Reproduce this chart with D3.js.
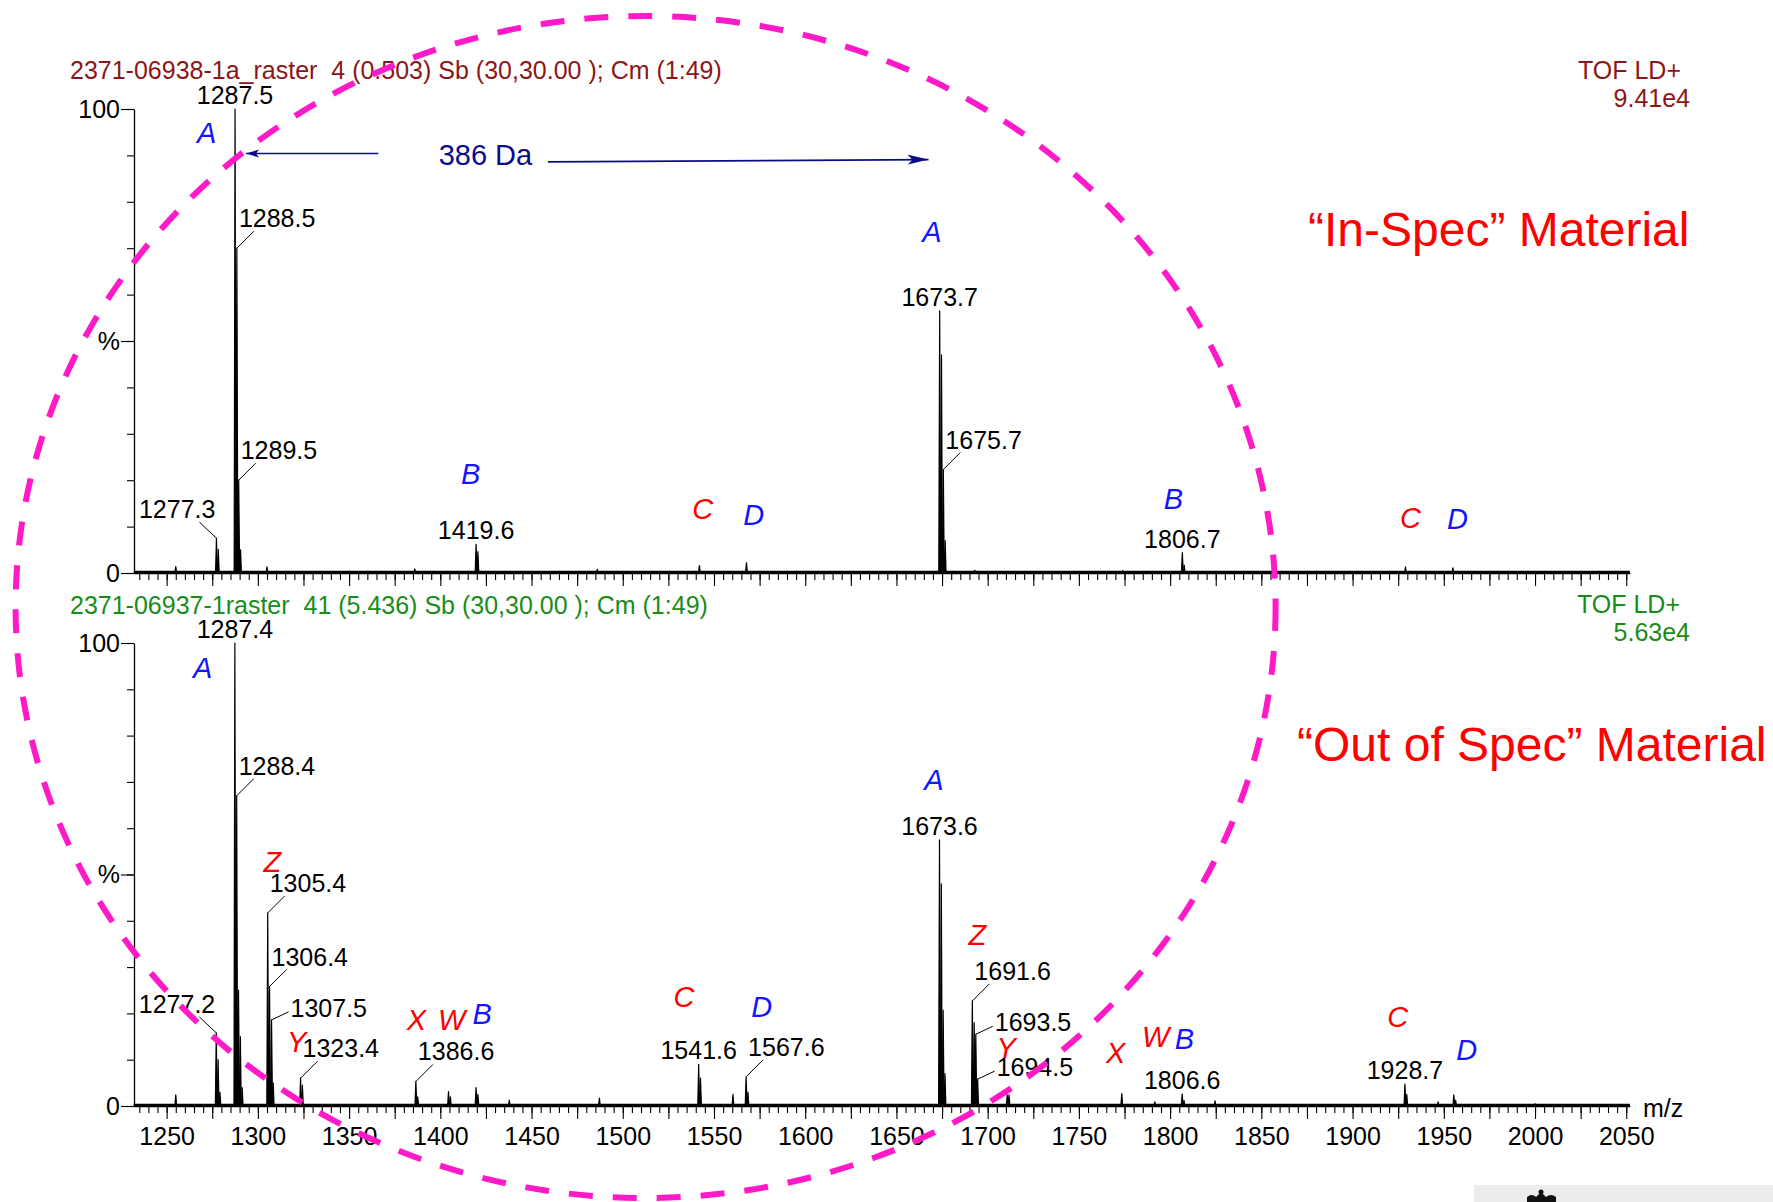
<!DOCTYPE html>
<html><head><meta charset="utf-8">
<script src="https://cdn.jsdelivr.net/npm/d3@7"></script>
<style>
html,body{margin:0;padding:0;background:#fff;}
svg{display:block;font-family:"Liberation Sans",Arial,Helvetica,sans-serif;}
</style></head><body>
<svg id="chart" width="1773" height="1202"></svg>
<script>
// ---------------- spectrum data (peak centroid m/z, relative intensity %) ----------------
const topMz  = [1255.0, 1277.3, 1278.3, 1287.5, 1288.5, 1289.5, 1290.5, 1305.0, 1386.0, 1419.6, 1420.6,
                1486.0, 1542.0, 1567.8, 1673.7, 1674.7, 1675.7, 1676.7, 1693.0, 1774.0, 1806.7, 1807.7,
                1929.0, 1955.0];
const topInt = [1.4, 7.5, 5.1, 100, 70, 20, 5, 1.3, 0.9, 6.2, 4.6,
                0.8, 1.6, 2.2, 56.5, 47, 22.3, 7, 0.6, 0.5, 4.4, 1.7,
                1.3, 1.1];

const botMz  = [1255.0, 1277.2, 1278.2, 1279.2, 1287.4, 1288.4, 1289.4, 1290.4, 1291.4, 1305.4, 1306.4,
                1307.5, 1308.4, 1323.4, 1324.4, 1386.6, 1387.6, 1404.5, 1405.5, 1419.6, 1420.6, 1437.8,
                1487.2, 1541.6, 1542.6, 1560.4, 1567.6, 1568.6, 1673.6, 1674.6, 1675.6, 1676.6, 1691.6,
                1692.6, 1693.5, 1694.5, 1710.7, 1711.7, 1773.5, 1791.6, 1806.6, 1807.6, 1824.6, 1928.7,
                1929.7, 1946.9, 1955.5, 1956.5, 2000.0];
const botInt = [2.4, 15.8, 10, 3, 100, 67, 25, 15, 4, 41.7, 25.8,
                18.6, 5, 6, 4.5, 5.3, 2, 3.1, 2, 4, 2.5, 1.3,
                1.7, 9, 6, 2.5, 6.3, 3, 57.5, 48, 20.7, 7, 22.7,
                18, 15.5, 5.8, 2.4, 2.4, 2.7, 0.9, 2.6, 1.2, 1.1, 4.75,
                2.5, 0.9, 2.4, 1.2, 0.5];

// m/z values printed on the spectra
const topLabelMz = [1287.5, 1288.5, 1289.5, 1277.3, 1419.6, 1673.7, 1675.7, 1806.7];
const botLabelMz = [1287.4, 1288.4, 1277.2, 1305.4, 1306.4, 1307.5, 1323.4, 1386.6,
                    1541.6, 1567.6, 1673.6, 1691.6, 1693.5, 1694.5, 1806.6, 1928.7];

// species letters: name, m/z position, height (%)
const topLetters   = ["A", "B", "C", "D", "A", "B", "C", "D"];
const topLetterMz  = [1271.9, 1416.6, 1543.8, 1571.8, 1669.4, 1801.8, 1931.7, 1957.5];
const topLetterPct = [92.7, 19.2, 11.6, 10.3, 71.3, 13.7, 9.6, 9.5];

const botLetters   = ["A", "Z", "Y", "X", "W", "B", "C", "D", "A", "Z", "Y", "X", "W", "B", "C", "D"];
const botLetterMz  = [1269.8, 1308.0, 1321.3, 1386.9, 1406.3, 1423.0, 1533.6, 1576.1,
                      1670.6, 1694.3, 1710.1, 1770.1, 1792.1, 1807.9, 1924.8, 1962.5];
const botLetterPct = [92.4, 50.6, 11.7, 16.4, 16.4, 17.7, 21.4, 19.3,
                      68.3, 34.8, 10.4, 9.2, 12.8, 12.3, 17.1, 9.9];

// axis ticks
const xTickLabels = [1250, 1300, 1350, 1400, 1450, 1500, 1550, 1600, 1650,
                     1700, 1750, 1800, 1850, 1900, 1950, 2000, 2050];
const yTickValues = [0, 10, 20, 30, 40, 50, 60, 70, 80, 90, 100];
const yTickText   = {0: "0", 50: "%", 100: "100"};

// the 386 Da mass shift between the two A species
const shiftText = "386 Da";
const shiftArrowLeftMz  = [1366.0, 1293.5];
const shiftArrowLeftPct = [90.4, 90.4];
const shiftArrowRightMz  = [1459.0, 1667.6];
const shiftArrowRightPct = [88.6, 89.1];
const shiftTextMz = 1399.1, shiftTextPct = 87.9;

// acquisition headers
const topHeader = "2371-06938-1a_raster  4 (0.503) Sb (30,30.00 ); Cm (1:49)";
const botHeader = "2371-06937-1raster  41 (5.436) Sb (30,30.00 ); Cm (1:49)";
const topScale = ["TOF LD+", "9.41e4"];
const botScale = ["TOF LD+", "5.63e4"];

// ---------------- layout ----------------
const svg = d3.select("#chart");
svg.append("rect").attr("width", 1773).attr("height", 1202).attr("fill", "#fff");

const FONT = 25;
const BLUE = "#1414ff", RED = "#ff0000";
const letterColor = {A: BLUE, B: BLUE, D: BLUE, C: RED, W: RED, X: RED, Y: RED, Z: RED};

const x = d3.scaleLinear().domain([1232, 2052]).range([133.8, 1629.9]);
const yTop = d3.scaleLinear().domain([0, 100]).range([573, 109]);
const yBot = d3.scaleLinear().domain([0, 100]).range([1106, 643]);

const minorTicks = d3.range(1235, 2051, 5);
const majorTicks = minorTicks.filter(v => v % 25 === 0);

// label placement styles relative to the peak apex
const LABEL_STYLE = {
  top: {text: [0, -5], anchor: "middle"},
  ne:  {lead: [17, -17], text: [2, -21], anchor: "start"},
  e:   {lead: [17, -8], text: [19, -3], anchor: "start"},
  nw:  {lead: [-17, -16], text: [-1, -20], anchor: "end"}
};
const topLabelStyle = ["top", "ne", "ne", "nw", "top", "top", "ne", "top"];
const botLabelStyle = ["top", "ne", "nw", "ne", "ne", "e", "ne", "ne",
                       "top", "ne", "top", "ne", "e", "e", "top", "top"];

function drawPanel(y, mzs, ints, labels, styles, letters, letterMz, letterPct, showXLabels) {
  const g = svg.append("g");

  // y axis: short ticks every 10 %, longer labelled ticks at 0, 50, 100
  const yAxisMinor = d3.axisLeft(y).tickValues(yTickValues).tickSize(7).tickSizeOuter(0).tickFormat("");
  const ya = g.append("g").attr("transform", "translate(134,0)").call(yAxisMinor);
  ya.select(".domain").attr("stroke", "#000").attr("stroke-width", 1.3);
  const yAxisMajor = d3.axisLeft(y).tickValues([0, 50, 100]).tickSize(13).tickPadding(1)
      .tickFormat(d => yTickText[d]);
  const yb = g.append("g").attr("transform", "translate(134,0)").call(yAxisMajor);
  yb.select(".domain").remove();
  yb.selectAll("text").attr("font-size", FONT).attr("font-family", "Liberation Sans, Arial").attr("fill", "#000");

  // x axis
  const y0 = y(0);
  const xMinor = d3.axisBottom(x).tickValues(minorTicks).tickSize(7).tickSizeOuter(0).tickFormat("");
  const xa = g.append("g").attr("transform", `translate(0,${y0})`).call(xMinor);
  xa.select(".domain").attr("stroke", "#000").attr("stroke-width", 1.3);
  const xMajor = d3.axisBottom(x).tickValues(majorTicks).tickSize(13).tickPadding(8)
      .tickFormat(d => (showXLabels && xTickLabels.includes(d)) ? d : "");
  const xb = g.append("g").attr("transform", `translate(0,${y0})`).call(xMajor);
  xb.select(".domain").remove();
  xb.selectAll("text").attr("font-size", FONT).attr("font-family", "Liberation Sans, Arial").attr("fill", "#000");
  g.selectAll(".tick line").attr("stroke", "#000").attr("stroke-width", 1.1);

  // spectrum baseline
  g.append("line").attr("x1", x(1232)).attr("x2", x(2052)).attr("y1", y0 - 1).attr("y2", y0 - 1)
    .attr("stroke", "#000").attr("stroke-width", 2.6);

  // peaks drawn as narrow profiles
  const hw = 0.5;
  g.append("g").selectAll("path").data(mzs).join("path")
    .attr("d", (m, i) => `M${x(m - hw)},${y0} L${x(m)},${y(ints[i])} L${x(m + hw)},${y0} Z`)
    .attr("fill", "#000").attr("stroke", "#000").attr("stroke-width", 1.2)
    .attr("stroke-linejoin", "round");

  // m/z labels with leader lines
  labels.forEach((m, i) => {
    const k = mzs.indexOf(m);
    const px = x(m), py = y(ints[k]);
    const s = LABEL_STYLE[styles[i]];
    if (s.lead) {
      g.append("line").attr("x1", px).attr("y1", py)
        .attr("x2", px + s.lead[0]).attr("y2", py + s.lead[1])
        .attr("stroke", "#000").attr("stroke-width", 1);
    }
    g.append("text").attr("x", px + s.text[0]).attr("y", py + s.text[1])
      .attr("text-anchor", s.anchor).attr("font-size", FONT).attr("fill", "#000")
      .text(m.toFixed(1));
  });

  // species letters
  g.append("g").selectAll("text").data(letters).join("text")
    .attr("x", (d, i) => x(letterMz[i])).attr("y", (d, i) => y(letterPct[i]))
    .attr("text-anchor", "middle").attr("font-size", 29).attr("font-style", "italic")
    .attr("fill", d => letterColor[d]).text(d => d);
  return g;
}

drawPanel(yTop, topMz, topInt, topLabelMz, topLabelStyle, topLetters, topLetterMz, topLetterPct, false);
drawPanel(yBot, botMz, botInt, botLabelMz, botLabelStyle, botLetters, botLetterMz, botLetterPct, true);

// m/z axis title
svg.append("text").attr("x", 1643).attr("y", 1117).attr("font-size", FONT).attr("fill", "#000").text("m/z");

// headers
const DARKRED = "#8c1616", GREEN = "#1a8c1a";
svg.append("text").attr("x", 70).attr("y", 79).attr("font-size", FONT).attr("fill", DARKRED)
  .style("white-space", "pre").text(topHeader);
svg.append("text").attr("x", 1681).attr("y", 79).attr("text-anchor", "end").attr("font-size", FONT)
  .attr("fill", DARKRED).text(topScale[0]);
svg.append("text").attr("x", 1690).attr("y", 107).attr("text-anchor", "end").attr("font-size", FONT)
  .attr("fill", DARKRED).text(topScale[1]);

svg.append("text").attr("x", 70).attr("y", 614).attr("font-size", FONT).attr("fill", GREEN)
  .style("white-space", "pre").text(botHeader);
svg.append("text").attr("x", 1680).attr("y", 613).attr("text-anchor", "end").attr("font-size", FONT)
  .attr("fill", GREEN).text(botScale[0]);
svg.append("text").attr("x", 1690).attr("y", 641).attr("text-anchor", "end").attr("font-size", FONT)
  .attr("fill", GREEN).text(botScale[1]);

// sample descriptions
svg.append("text").attr("x", 1308).attr("y", 246).attr("font-size", 48).attr("fill", RED)
  .text("\u201CIn-Spec\u201D Material");
svg.append("text").attr("x", 1297).attr("y", 761).attr("font-size", 48).attr("fill", RED)
  .text("\u201COut of Spec\u201D Material");

// 386 Da shift annotation
const NAVY = "#0c0c8a";
const defs = svg.append("defs");
defs.append("marker").attr("id", "headBig").attr("viewBox", "0 -6 22 12").attr("refX", 21).attr("refY", 0)
  .attr("markerUnits", "userSpaceOnUse").attr("markerWidth", 22).attr("markerHeight", 12)
  .attr("orient", "auto").append("path").attr("d", "M0,-5 L21,0 L0,5 L5,0 Z").attr("fill", NAVY);
defs.append("marker").attr("id", "headSmall").attr("viewBox", "0 -5 14 10").attr("refX", 13).attr("refY", 0)
  .attr("markerUnits", "userSpaceOnUse").attr("markerWidth", 14).attr("markerHeight", 10)
  .attr("orient", "auto").append("path").attr("d", "M0,-4 L13,0 L0,4 L3,0 Z").attr("fill", NAVY);

svg.append("line")
  .attr("x1", x(shiftArrowLeftMz[0])).attr("y1", yTop(shiftArrowLeftPct[0]))
  .attr("x2", x(shiftArrowLeftMz[1])).attr("y2", yTop(shiftArrowLeftPct[1]))
  .attr("stroke", NAVY).attr("stroke-width", 1.5).attr("marker-end", "url(#headSmall)");
svg.append("line")
  .attr("x1", x(shiftArrowRightMz[0])).attr("y1", yTop(shiftArrowRightPct[0]))
  .attr("x2", x(shiftArrowRightMz[1])).attr("y2", yTop(shiftArrowRightPct[1]))
  .attr("stroke", NAVY).attr("stroke-width", 1.6).attr("marker-end", "url(#headBig)");
svg.append("text").attr("x", x(shiftTextMz)).attr("y", yTop(shiftTextPct))
  .attr("font-size", 29).attr("fill", NAVY).text(shiftText);

// corner badge
svg.append("rect").attr("x", 1474).attr("y", 1185).attr("width", 299).attr("height", 17).attr("fill", "#ececec");
svg.append("path")
  .attr("d", "M1527,1202 L1527,1197 Q1532,1193 1536,1197 Q1541,1190 1546,1197 Q1551,1193 1556,1197 L1556,1202 Z")
  .attr("fill", "#111");
svg.append("circle").attr("cx", 1541).attr("cy", 1192).attr("r", 2.5).attr("fill", "#111");

// dashed highlight ellipse over the region of interest
svg.append("ellipse").attr("cx", 645.6).attr("cy", 607).attr("rx", 630).attr("ry", 591)
  .attr("fill", "none").attr("stroke", "#ff1ac8").attr("stroke-width", 6)
  .attr("stroke-dasharray", "24 20");
</script>
</body></html>
